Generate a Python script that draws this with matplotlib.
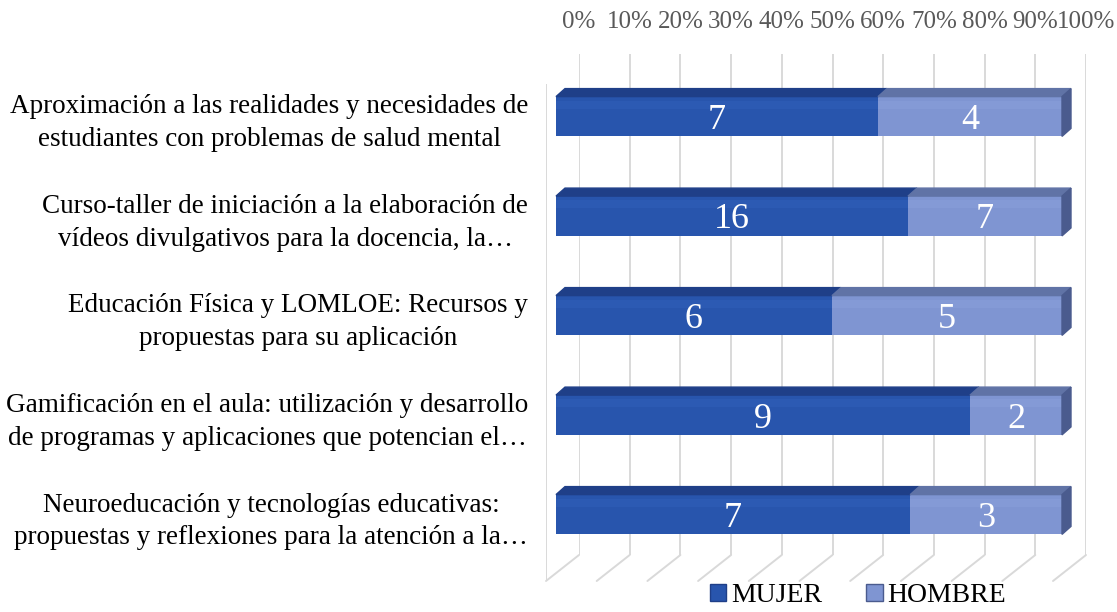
import matplotlib.pyplot as plt
import numpy as np
from matplotlib.patches import Polygon, Patch, ConnectionPatch

plt.rcParams['font.family'] = ['Liberation Serif', 'DejaVu Serif']

###DATOS: ------------------------------------------------------------------
cursos = [
    "Aproximación a las realidades y necesidades de\nestudiantes con problemas de salud mental",
    "Curso-taller de iniciación a la elaboración de\nvídeos divulgativos para la docencia, la…",
    "Educación Física y LOMLOE: Recursos y\npropuestas para su aplicación",
    "Gamificación en el aula: utilización y desarrollo\nde programas y aplicaciones que potencian el…",
    "Neuroeducación y tecnologías educativas:\npropuestas y reflexiones para la atención a la…",
]
mujer = [7, 16, 6, 9, 7]
hombre = [4, 7, 5, 2, 3]
ticks = [0, 0.1, 0.2, 0.3, 0.4, 0.5, 0.6, 0.7, 0.8, 0.9, 1.0]
tick_labels = ["0%", "10%", "20%", "30%", "40%", "50%", "60%", "70%", "80%", "90%", "100%"]

###ESTILO: -----------------------------------------------------------------
c_mujer, c_mujer_top, c_mujer_hl = "#2855AD", "#1F3F88", "#3565C0"
c_hombre, c_hombre_top, c_hombre_side, c_hombre_hl = "#7F95D2", "#6073A6", "#4A5B8E", "#8FA6E0"
c_grid = "#D9D9D9"

W, H = 1117, 612
fig = plt.figure(figsize=(W / 100, H / 100), dpi=100)

#axes in pixel-koordinaten anlegen (links, oben, rechts, unten)
def px_axes(left, top, right, bottom, z):
    a = fig.add_axes([left / W, 1 - bottom / H, (right - left) / W, (bottom - top) / H])
    a.set_facecolor("none")
    a.set_zorder(z)
    for s in a.spines.values():
        s.set_visible(False)
    return a

ax_back = px_axes(579, 54, 1086, 555, 0)       # rückwand mit gitterlinien
ax_floor = px_axes(546, 84, 1053, 581, 1)      # vorderkante boden
ax = px_axes(556, 56.8, 1062, 574.2, 2)        # balken (mitte 1. balken ~116.5px)

#rückwand
ax_back.set_xlim(0, 1)
ax_back.set_ylim(0, 1)
ax_back.vlines(ticks, 0, 1, color=c_grid, lw=1.4)
ax_back.xaxis.tick_top()
ax_back.set_xticks(ticks, tick_labels)
ax_back.set_yticks([])
ax_back.tick_params(axis="x", length=0, pad=15, labelsize=18, labelcolor="#595959")

#boden-diagonalen + linke wand
ax_floor.set_xlim(0, 1)
ax_floor.set_ylim(0, 1)
ax_floor.set_xticks([])
ax_floor.set_yticks([])
ax_floor.plot([0, 0], [0, 1], color=c_grid, lw=1.4)
for v in ticks:
    con = ConnectionPatch(xyA=(v, 0), coordsA=ax_back.transData,
                          xyB=(v, 0), coordsB=ax_floor.transData,
                          color=c_grid, lw=1.4)
    fig.add_artist(con)

#balken (100% gestapelt)
y = np.arange(len(cursos))
tot = np.array(mujer) + np.array(hombre)
pm = np.array(mujer) / tot
ph = np.array(hombre) / tot
bh = 0.40
ax.barh(y, pm, height=bh, color=c_mujer)
ax.barh(y, ph, left=pm, height=bh, color=c_hombre)
#leichter glanz oben an der vorderseite
ax.barh(y - bh * 0.3, pm, height=bh * 0.2, color=c_mujer_hl, alpha=0.35)
ax.barh(y - bh * 0.3, ph, left=pm, height=bh * 0.2, color=c_hombre_hl, alpha=0.35)
ax.set_xlim(0, 1)
ax.set_ylim(4.6, -0.6)

#3d-effekt: deckfläche + seitenfläche
dx = 9 / 506
dy = 8 / 99.5
for i in range(len(cursos)):
    top = y[i] - bh / 2
    bot = y[i] + bh / 2
    ax.add_patch(Polygon([(0, top), (pm[i], top), (pm[i] + dx, top - dy), (dx, top - dy)],
                         color=c_mujer_top, clip_on=False))
    ax.add_patch(Polygon([(pm[i], top), (1, top), (1 + dx, top - dy), (pm[i] + dx, top - dy)],
                         color=c_hombre_top, clip_on=False))
    ax.add_patch(Polygon([(1, top), (1 + dx, top - dy), (1 + dx, bot - dy), (1, bot)],
                         color=c_hombre_side, clip_on=False))
    ax.text(pm[i] / 2, y[i], str(mujer[i]), color="white", fontsize=26,
            ha="center", va="center_baseline")
    ax.text(pm[i] + ph[i] / 2, y[i], str(hombre[i]), color="white", fontsize=26,
            ha="center", va="center_baseline")

ax.set_xticks([])
ax.set_yticks(y, cursos)
ax.tick_params(axis="y", length=0, pad=20, labelsize=19.5)
for lab in ax.get_yticklabels():
    lab.set_multialignment("center")
    lab.set_linespacing(1.42)

#legende
handles = [Patch(facecolor=c_mujer, edgecolor="#1F3F88", label="MUJER"),
           Patch(facecolor=c_hombre, edgecolor="#4A5B8E", label="HOMBRE")]
fig.legend(handles=handles, loc="center", bbox_to_anchor=(858 / W, 1 - 596 / H),
           ncol=2, frameon=False, fontsize=20, handlelength=0.58, handleheight=0.58,
           handletextpad=0.18, columnspacing=1.6)

fig.savefig("out.png", dpi=100)
